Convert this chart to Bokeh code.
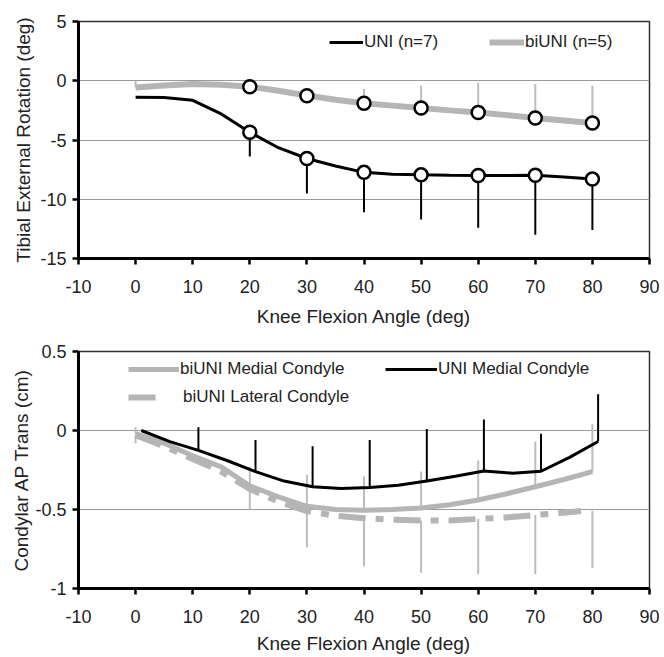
from bokeh.plotting import figure
from bokeh.models import Range1d, FixedTicker, Legend, LegendItem
from bokeh.layouts import column
from bokeh.embed import file_html
from bokeh.resources import INLINE

FONT = "Liberation Sans"
TXT = "#222222"
GRAY_LINE = "#b5b5b5"
GRAY_BAR = "#bdbdbd"

# ---------------- shared x axis ----------------
x_ticks = [-10, 0, 10, 20, 30, 40, 50, 60, 70, 80, 90]
x_tick_labels = ["-10", "0", "10", "20", "30", "40", "50", "60", "70", "80", "90"]

# ---------------- top chart: tibial external rotation ----------------
top_y_ticks = [-15, -10, -5, 0, 5]
top_y_labels = ["-15", "-10", "-5", "0", "5"]

rot_line_x = [0, 5, 10, 15, 20, 25, 30, 35, 40, 45, 50, 55, 60, 65, 70, 75, 80]
uni_rot_line = [-1.40, -1.42, -1.65, -2.80, -4.35, -5.65, -6.56, -7.20, -7.73,
                -7.88, -7.94, -7.98, -8.00, -7.99, -7.97, -8.12, -8.30]
biuni_rot_line = [-0.56, -0.40, -0.28, -0.34, -0.50, -0.85, -1.25, -1.60, -1.90,
                  -2.10, -2.30, -2.50, -2.68, -2.90, -3.15, -3.35, -3.57]

rot_pts_x = [20, 30, 40, 50, 60, 70, 80]
uni_rot_mean = [-4.35, -6.56, -7.73, -7.94, -8.00, -7.97, -8.30]
uni_rot_lower = [-6.39, -9.52, -11.10, -11.70, -12.40, -13.00, -12.60]
biuni_rot_mean = [-0.50, -1.27, -1.90, -2.30, -2.68, -3.15, -3.57]

biuni_bar_x = [0, 20, 30, 40, 50, 60, 70, 80]
biuni_bar_base = [-0.56, -0.50, -1.27, -1.90, -2.30, -2.68, -3.15, -3.57]
biuni_bar_upper = [0.00, -0.30, -1.00, -0.70, -0.42, -0.14, -0.28, -0.42]

# ---------------- bottom chart: condylar AP translation ----------------
bot_y_ticks = [-1, -0.5, 0, 0.5]
bot_y_labels = ["-1", "-0.5", "0", "0.5"]

uni_ap_x = [1, 6, 11, 16, 21, 26, 31, 36, 41, 46, 51, 56, 61, 66, 71, 76, 81]
uni_ap_line = [0.00, -0.07, -0.126, -0.19, -0.26, -0.32, -0.356, -0.367, -0.36,
               -0.346, -0.32, -0.29, -0.256, -0.27, -0.258, -0.17, -0.07]
uni_bar_x = [11, 21, 31, 41, 51, 61, 71, 81]
uni_bar_base = [-0.126, -0.26, -0.356, -0.36, -0.32, -0.256, -0.258, -0.07]
uni_bar_upper = [0.02, -0.06, -0.10, -0.06, 0.01, 0.07, -0.02, 0.23]

med_x = [0, 5, 10, 15, 20, 25, 30, 35, 40, 45, 50, 55, 60, 65, 70, 75, 80]
biuni_med_line = [-0.02, -0.08, -0.16, -0.23, -0.35, -0.42, -0.48, -0.50, -0.505,
                  -0.50, -0.49, -0.47, -0.44, -0.40, -0.356, -0.31, -0.26]
lat_x = [0, 5, 10, 15, 20, 25, 30, 35, 40, 45, 50, 55, 60, 65, 70, 75, 78]
biuni_lat_line = [-0.03, -0.10, -0.18, -0.26, -0.37, -0.45, -0.51, -0.54, -0.555,
                  -0.565, -0.57, -0.57, -0.56, -0.55, -0.535, -0.52, -0.51]

gray_bar_x = [0, 20, 30, 40, 50, 60, 70, 80]
med_bar_base = [-0.02, -0.35, -0.48, -0.505, -0.49, -0.44, -0.356, -0.26]
med_bar_upper = [0.02, -0.23, -0.28, -0.29, -0.26, -0.19, -0.07, 0.04]
lat_bar_base = [-0.03, -0.37, -0.51, -0.555, -0.57, -0.56, -0.535, -0.51]
lat_bar_lower = [-0.08, -0.50, -0.74, -0.86, -0.90, -0.91, -0.91, -0.87]


def style(p, ylabel, yticks, ylabels, ylab_standoff, xlab_standoff):
    p.xaxis.ticker = FixedTicker(ticks=x_ticks)
    p.xaxis.major_label_overrides = dict(zip(x_ticks, x_tick_labels))
    p.yaxis.ticker = FixedTicker(ticks=yticks)
    p.yaxis.major_label_overrides = dict(zip(yticks, ylabels))
    p.xaxis.axis_label = "Knee Flexion Angle (deg)"
    p.yaxis.axis_label = ylabel
    for ax in (p.xaxis[0], p.yaxis[0]):
        ax.axis_line_width = 3
        ax.axis_line_color = "black"
        ax.major_tick_line_width = 2.5
        ax.major_tick_line_color = "black"
        ax.major_tick_in = 0
        ax.major_tick_out = 6
        ax.minor_tick_line_color = None
        ax.major_label_text_font = FONT
        ax.major_label_text_font_size = "18px"
        ax.major_label_text_color = TXT
        ax.axis_label_text_font = FONT
        ax.axis_label_text_font_size = "19px"
        ax.axis_label_text_font_style = "normal"
        ax.axis_label_text_color = TXT
    p.xaxis.major_label_standoff = 15
    p.xaxis.axis_label_standoff = xlab_standoff
    p.yaxis.major_label_standoff = 6
    p.yaxis.axis_label_standoff = ylab_standoff
    p.xgrid.grid_line_color = None
    p.ygrid.ticker = FixedTicker(ticks=yticks)
    p.ygrid.grid_line_color = "#9a9a9a"
    p.ygrid.grid_line_width = 1
    p.outline_line_color = "#333333"
    p.outline_line_width = 1.5
    p.background_fill_color = "white"
    p.border_fill_color = "white"


def add_legend(p, label, renderer, loc, gw, standoff=1):
    leg = Legend(items=[LegendItem(label=label, renderers=[renderer])],
                 location=loc, orientation="horizontal", glyph_width=gw,
                 glyph_height=20, label_standoff=standoff, padding=0, margin=0,
                 border_line_alpha=0, background_fill_alpha=0,
                 label_text_font=FONT, label_text_font_size="17px",
                 label_text_color=TXT)
    p.add_layout(leg)


# ---------------- top figure ----------------
p1 = figure(width=664, height=338, output_backend="svg", toolbar_location=None,
            x_range=Range1d(-10, 90), y_range=Range1d(-15, 5),
            min_border_left=74, min_border_right=15, min_border_top=21,
            min_border_bottom=80)
style(p1, "Tibial External Rotation (deg)", top_y_ticks, top_y_labels, 3, 10)

p1.segment(x0=biuni_bar_x, y0=biuni_bar_base, x1=biuni_bar_x, y1=biuni_bar_upper,
           line_color=GRAY_BAR, line_width=2)
p1.segment(x0=rot_pts_x, y0=uni_rot_mean, x1=rot_pts_x, y1=uni_rot_lower,
           line_color="black", line_width=2)
r_bi = p1.line(rot_line_x, biuni_rot_line, line_color=GRAY_LINE, line_width=6)
r_uni = p1.line(rot_line_x, uni_rot_line, line_color="black", line_width=3)
p1.scatter(rot_pts_x, biuni_rot_mean, size=13, fill_color="white",
           line_color="black", line_width=2.5)
p1.scatter(rot_pts_x, uni_rot_mean, size=13, fill_color="white",
           line_color="black", line_width=2.5)

add_legend(p1, "UNI (n=7)", r_uni, (251, 206), 34)
add_legend(p1, "biUNI (n=5)", r_bi, (411, 206), 35)

# ---------------- bottom figure ----------------
p2 = figure(width=664, height=318, output_backend="svg", toolbar_location=None,
            x_range=Range1d(-10, 90), y_range=Range1d(-1, 0.5),
            min_border_left=78, min_border_right=14, min_border_top=13,
            min_border_bottom=67)
style(p2, "Condylar AP Trans (cm)", bot_y_ticks, bot_y_labels, 0, 7)

p2.segment(x0=gray_bar_x, y0=med_bar_base, x1=gray_bar_x, y1=med_bar_upper,
           line_color=GRAY_BAR, line_width=2)
p2.segment(x0=gray_bar_x, y0=lat_bar_base, x1=gray_bar_x, y1=lat_bar_lower,
           line_color=GRAY_BAR, line_width=2)
r_lat = p2.line(lat_x, biuni_lat_line, line_color=GRAY_LINE, line_width=6,
                line_dash="27 10 8 10")
r_med = p2.line(med_x, biuni_med_line, line_color=GRAY_LINE, line_width=5)
r_uni2 = p2.line(uni_ap_x, uni_ap_line, line_color="black", line_width=3)
p2.segment(x0=uni_bar_x, y0=uni_bar_base, x1=uni_bar_x, y1=uni_bar_upper,
           line_color="black", line_width=2)

add_legend(p2, "biUNI Medial Condyle", r_med, (50, 209), 51)
add_legend(p2, "biUNI Lateral Condyle", r_lat, (50, 181), 33, 22)
add_legend(p2, "UNI Medial Condyle", r_uni2, (307, 209), 52)

layout = column(p1, p2, spacing=0)
open("out.html", "w").write(file_html(layout, INLINE))
